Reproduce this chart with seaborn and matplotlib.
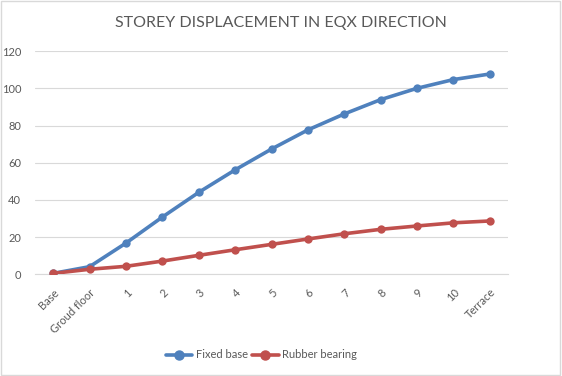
import numpy as np
import pandas as pd
import seaborn as sns
import matplotlib.pyplot as plt
from matplotlib.patches import Rectangle

# storey labels and displacements
STOREYS = ['Base', 'Groud floor', '1', '2', '3', '4', '5', '6', '7', '8', '9', '10', 'Terrace']
FIXED_BASE = [0.5, 4.1, 16.8, 30.8, 44.1, 56.2, 67.4, 77.7, 86.3, 94.0, 100.1, 104.8, 107.8]
RUBBER_BEARING = [0.5, 2.7, 4.3, 7.1, 10.2, 13.2, 16.1, 19.0, 21.8, 24.2, 26.0, 27.7, 28.7]
SERIES = ['Fixed base', 'Rubber bearing']
COLORS = ['#4F81BD', '#C0504D']

sns.set_style('white')
plt.rcParams['font.family'] = ['Lato', 'DejaVu Sans']

df = pd.DataFrame({
    'pos': list(range(len(STOREYS))) * 2,
    'disp': FIXED_BASE + RUBBER_BEARING,
    'series': [SERIES[0]] * len(STOREYS) + [SERIES[1]] * len(STOREYS),
})

fig = plt.figure(figsize=(5.62, 3.76), dpi=100)
ax = fig.add_axes([0.0623, 0.2705, 0.8416, 0.593])

sns.lineplot(data=df, x='pos', y='disp', hue='series', hue_order=SERIES,
             palette=COLORS, marker='o', markersize=6, markeredgewidth=0,
             linewidth=2.6, ax=ax, legend=False, zorder=3)

ax.set_xlim(-0.5, len(STOREYS) - 0.5)
ax.set_ylim(0, 120)
ax.set_yticks(range(0, 121, 20))
ax.set_xticks(range(len(STOREYS)))
ax.set_xticklabels(STOREYS, rotation=45, ha='right', rotation_mode='anchor')
ax.tick_params(axis='both', length=0, labelsize=8, colors='#595959')
ax.tick_params(axis='x', pad=9)
ax.tick_params(axis='y', pad=10)
ax.set_xlabel('')
ax.set_ylabel('')
ax.grid(axis='y', color='#D9D9D9', linewidth=0.8)
for s in ['top', 'right', 'left']:
    ax.spines[s].set_visible(False)
ax.spines['bottom'].set_color('#D9D9D9')
ax.spines['bottom'].set_linewidth(0.8)

fig.text(0.5, 0.94, 'STOREY DISPLACEMENT IN EQX DIRECTION', ha='center', va='center',
         fontsize=11.5, color='#595959')

handles = [plt.Line2D([], [], color=c, marker='o', markersize=6.5, linewidth=2.6) for c in COLORS]
fig.legend(handles, SERIES, loc='center', bbox_to_anchor=(0.465, 0.056), ncol=2,
           frameon=False, fontsize=8, handlelength=2.4, columnspacing=0.4, handletextpad=0.3,
           labelcolor='#595959')

fig.patches.append(Rectangle((0.002, 0.003), 0.995, 0.994, transform=fig.transFigure,
                             fill=False, edgecolor='#D9D9D9', linewidth=1))

fig.savefig('out.png', dpi=100)
